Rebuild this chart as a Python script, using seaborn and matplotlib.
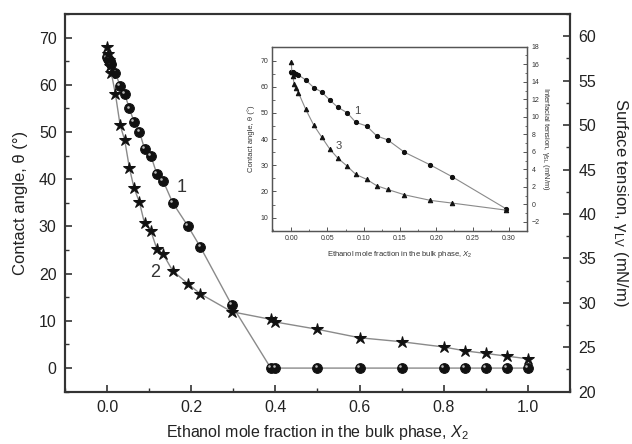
import numpy as np
import pandas as pd
import matplotlib
matplotlib.use("Agg")
import matplotlib.pyplot as plt
import matplotlib.transforms as mtransforms
from matplotlib.ticker import MultipleLocator
import seaborn as sns

sns.set_theme(style="white")
plt.rcParams['font.family'] = ['Liberation Sans', 'DejaVu Sans']
plt.rcParams['mathtext.fontset'] = 'custom'
plt.rcParams['mathtext.rm'] = 'Liberation Sans'
plt.rcParams['mathtext.it'] = 'Liberation Sans:italic'

# ---- data ----
x_frac = [0, 0.002, 0.004, 0.006, 0.01, 0.02, 0.031, 0.042, 0.053, 0.064, 0.077,
          0.089, 0.104, 0.118, 0.133, 0.156, 0.192, 0.222, 0.296, 0.389, 0.4,
          0.5, 0.6, 0.7, 0.8, 0.85, 0.9, 0.95, 1.0]
contact_angle = [65.8, 65.5, 65.2, 65.0, 64.5, 62.6, 59.7, 58.0, 55.0, 52.2, 50.1,
                 46.4, 45.0, 41.2, 39.7, 35.0, 30.1, 25.6, 13.4, 0, 0,
                 0, 0, 0, 0, 0, 0, 0, 0]
surface_tension = [58.8, 58.0, 57.3, 56.6, 55.9, 53.45, 50.0, 48.3, 45.2, 42.95, 41.3,
                   38.95, 38.1, 36.1, 35.5, 33.6, 32.15, 31.0, 29.0, 28.14, 27.84,
                   27.02, 26.07, 25.62, 25.03, 24.6, 24.3, 24.0, 23.7]
x_inset = [0, 0.002, 0.004, 0.006, 0.01, 0.02, 0.031, 0.042, 0.053, 0.064, 0.077,
           0.089, 0.104, 0.118, 0.133, 0.156, 0.192, 0.222, 0.296]
inset_angle = [65.8, 65.5, 65.2, 65.0, 64.5, 62.6, 59.7, 58.0, 55.0, 52.2, 50.1,
               46.4, 45.0, 41.2, 39.7, 35.0, 30.1, 25.6, 13.4]
x_tri = [0, 0.001, 0.002, 0.004, 0.006, 0.01, 0.02, 0.031, 0.042, 0.053, 0.064,
         0.077, 0.089, 0.104, 0.118, 0.133, 0.156, 0.192, 0.222, 0.296]
interfacial_tension = [16.3, 15.1, 14.7, 13.8, 13.3, 12.75, 10.86, 9.06, 7.69, 6.34, 5.3,
                       4.38, 3.43, 2.86, 2.13, 1.71, 1.1, 0.46, 0.15, -0.65]

LINE = '#8a8a8a'
SPINE = '#333333'

fig = plt.figure(figsize=(6.32, 4.44), dpi=100)
ax = fig.add_axes([0.1028, 0.1178, 0.7991, 0.8507])
ax2 = ax.twinx()

# series 1: spheres (contact angle)
sns.lineplot(x=x_frac, y=contact_angle, ax=ax, color=LINE, lw=1.0, marker='o',
             markersize=7, markerfacecolor='#111111', markeredgecolor='#111111',
             errorbar=None, sort=False)
hl = mtransforms.offset_copy(ax.transData, fig=fig, x=-1.3, y=1.3, units='points')
ax.scatter(x_frac, contact_angle, s=3.5, color='#bbbbbb', transform=hl, zorder=5, lw=0)

# series 2: stars (surface tension)
sns.lineplot(x=x_frac, y=surface_tension, ax=ax2, color=LINE, lw=1.0, marker='*',
             markersize=9, markerfacecolor='#111111', markeredgecolor='#111111',
             errorbar=None, sort=False)

ax.set_xlim(-0.1, 1.1)
ax.set_ylim(-5, 75)
ax2.set_ylim(20, 62.5)
ax.xaxis.set_major_locator(MultipleLocator(0.2))
ax.xaxis.set_minor_locator(MultipleLocator(0.1))
ax.yaxis.set_major_locator(MultipleLocator(10))
ax.yaxis.set_minor_locator(MultipleLocator(5))
ax2.yaxis.set_major_locator(MultipleLocator(5))
ax2.yaxis.set_minor_locator(MultipleLocator(2.5))
ax.set_xticks([0.0, 0.2, 0.4, 0.6, 0.8, 1.0])
ax.set_xticklabels(['0.0', '0.2', '0.4', '0.6', '0.8', '1.0'])

for a in (ax, ax2):
    for s in a.spines.values():
        s.set_color(SPINE)
        s.set_linewidth(1.5)
ax.tick_params(axis='both', which='major', direction='in', length=5, width=1.2,
               color=SPINE, labelsize=11.5, labelcolor='#222222', pad=6)
ax.tick_params(axis='both', which='minor', direction='in', length=3, width=1.0, color=SPINE)
ax.tick_params(axis='x', bottom=True, which='both')
ax.tick_params(axis='y', left=True, which='both')
ax2.tick_params(axis='y', which='major', direction='in', length=5, width=1.2,
                color=SPINE, labelsize=11.5, labelcolor='#222222', pad=6, right=True)
ax2.tick_params(axis='y', which='minor', direction='in', length=3, width=1.0,
                color=SPINE, right=True)

ax.set_xlabel(r'Ethanol mole fraction in the bulk phase, $X_2$', fontsize=11.5,
              color='#222222', labelpad=6)
ax.set_ylabel('Contact angle, θ (°)', fontsize=12, color='#222222', labelpad=8)
ax2.set_ylabel(r'Surface tension, γ$_{\mathrm{LV}}$ (mN/m)', fontsize=12,
               color='#222222', rotation=270, labelpad=24)

ax.text(0.178, 38.3, '1', fontsize=13, color='#333333', ha='center', va='center')
ax.text(0.115, 20.3, '2', fontsize=13, color='#333333', ha='center', va='center')

# ---- inset ----
axi = fig.add_axes([0.4309, 0.4804, 0.4035, 0.4144])
axi2 = axi.twinx()
sns.lineplot(x=x_inset, y=inset_angle, ax=axi, color=LINE, lw=0.8, marker='o',
             markersize=3, markerfacecolor='#111111', markeredgecolor='#111111',
             errorbar=None, sort=False)
sns.lineplot(x=x_tri, y=interfacial_tension, ax=axi2, color=LINE, lw=0.8, marker='^',
             markersize=3.2, markerfacecolor='#111111', markeredgecolor='#111111',
             errorbar=None, sort=False)
axi.set_xlim(-0.026, 0.3255)
axi.set_ylim(5, 75.3)
axi2.set_ylim(-3, 18)
axi.xaxis.set_major_locator(MultipleLocator(0.05))
axi.xaxis.set_minor_locator(MultipleLocator(0.025))
axi.yaxis.set_major_locator(MultipleLocator(10))
axi.yaxis.set_minor_locator(MultipleLocator(5))
axi2.yaxis.set_major_locator(MultipleLocator(2))
axi2.yaxis.set_minor_locator(MultipleLocator(1))
axi.set_xticks([0.0, 0.05, 0.10, 0.15, 0.20, 0.25, 0.30])
axi.set_xticklabels(['0.00', '0.05', '0.10', '0.15', '0.20', '0.25', '0.30'])
axi.set_yticks([10, 20, 30, 40, 50, 60, 70])
axi2.set_yticks([-2, 0, 2, 4, 6, 8, 10, 12, 14, 16, 18])
for a in (axi, axi2):
    for s in a.spines.values():
        s.set_color('#555555')
        s.set_linewidth(0.9)
axi.tick_params(axis='both', which='major', direction='in', length=3, width=0.7,
                color='#555555', labelsize=5, labelcolor='#333333', pad=3,
                bottom=True, left=True)
axi.tick_params(axis='both', which='minor', direction='in', length=1.8, width=0.6,
                color='#555555', bottom=True, left=True)
axi2.tick_params(axis='y', which='major', direction='in', length=3, width=0.7,
                 color='#555555', labelsize=5, labelcolor='#333333', pad=3, right=True)
axi2.tick_params(axis='y', which='minor', direction='in', length=1.8, width=0.6,
                 color='#555555', right=True)
axi.set_xlabel(r'Ethanol mole fraction in the bulk phase, $X_2$', fontsize=5.5,
               color='#333333', labelpad=5)
axi.set_ylabel('Contact angle, θ (°)', fontsize=5.5, color='#333333', labelpad=4)
axi2.set_ylabel(r'Interfacial tension, γ$_{\mathrm{SL}}$ (mN/m)', fontsize=5.5,
                color='#333333', rotation=270, labelpad=8)
axi.text(0.0905, 50.7, '1', fontsize=8, color='#444444', ha='center', va='center')
axi.text(0.0651, 37.4, '3', fontsize=8, color='#444444', ha='center', va='center')

fig.savefig('out.png', dpi=100)
